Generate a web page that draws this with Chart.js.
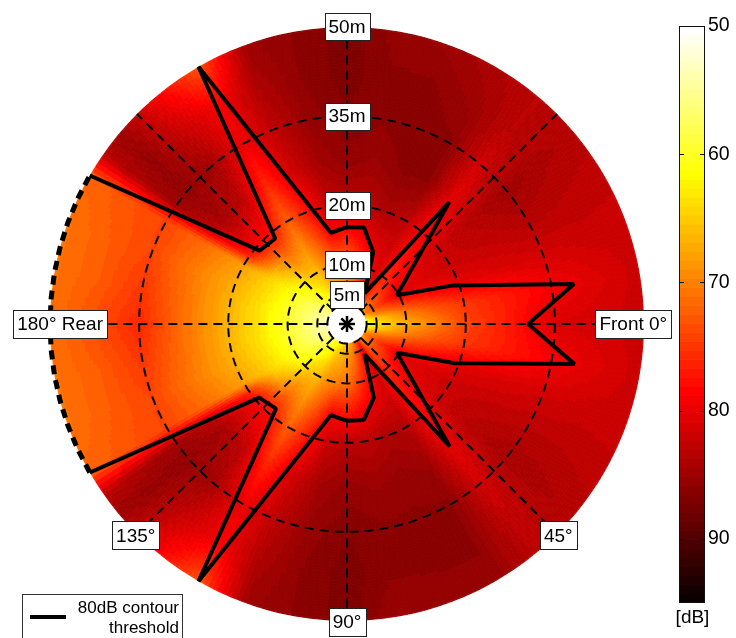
<!DOCTYPE html>
<html>
<head>
<meta charset="utf-8">
<title>80dB contour</title>
<script src="https://cdn.jsdelivr.net/npm/chart.js@4"></script>
<style>
  html, body { margin: 0; padding: 0; background: #fff; overflow: hidden; }
  #wrap { position: relative; width: 736px; height: 638px; }
  canvas { position: absolute; top: 0; }
</style>
</head>
<body>
<div id="wrap">
  <canvas id="polar" width="736" height="638" style="left:0"></canvas>
  <canvas id="bar" width="64" height="638" style="left:672px"></canvas>
</div>
<script>
// level in dB, one row per angle in fieldAngles, one column per radius in fieldRadii
const fieldRadii = [3.3, 5, 10, 15, 20, 27.5, 35, 42.5, 50];
const fieldAngles = [0, 10, 20, 30, 40, 50, 60, 70, 80, 90, 100, 110, 120, 130, 140, 145, 150, 160, 170, 180,
    190, 200, 210, 215, 220, 230, 240, 250, 260, 270, 280, 290, 300, 310, 320, 330, 340, 350];
const levels = [
    [60, 63, 67, 70, 74, 77, 81, 81.5, 82],
    [62, 65, 70, 73, 75, 77, 79, 80.6, 82],
    [66, 70, 75, 78, 80.2, 81, 81.5, 82, 82],
    [70, 73, 80.2, 81, 82, 82.5, 83, 83, 82.5],
    [68, 72, 78, 80.4, 82, 83.5, 84.5, 84, 83.5],
    [70, 73, 76, 77.5, 78.5, 80.2, 81.5, 82.5, 83],
    [76, 79, 81, 82, 83.5, 85, 86, 86, 85.5],
    [72, 74, 78, 81, 84, 85.5, 86, 86, 85.5],
    [68, 70, 74, 79, 83, 85, 86, 86, 85],
    [66, 68, 71, 77, 83, 85.5, 86.5, 87, 87],
    [64, 66, 70, 78, 82, 84.5, 85.5, 86, 86],
    [62, 65, 69, 73, 77, 81.5, 83, 84, 85],
    [60, 62, 66, 69, 72, 76, 79.5, 79, 73],
    [58, 60, 65, 71, 78, 83, 84.5, 82, 79],
    [56, 58, 62, 68, 79, 84.5, 85.5, 85.5, 85],
    [55.5, 57.5, 61.5, 66, 76, 82.5, 85, 84, 83],
    [55, 56.5, 60.5, 64.5, 68, 71.5, 74, 73, 72],
    [54, 55.5, 60, 64, 67, 70.5, 74, 72.5, 71],
    [53.5, 55, 59.5, 63.5, 66.5, 71, 75, 72.5, 71],
    [53, 55, 59.5, 63.5, 66.5, 71, 76, 73.5, 71],
    [53.5, 55, 59.5, 63.5, 66.5, 71, 75, 72.5, 71],
    [54, 55.5, 60, 64, 67, 70.5, 74, 72.5, 71],
    [55, 56.5, 60.5, 64.5, 68, 71.5, 74, 73, 72],
    [55.5, 57.5, 61.5, 66, 76, 82.5, 85, 84, 83],
    [56, 58, 62, 68, 79, 84.5, 85.5, 85.5, 85],
    [58, 60, 65, 71, 78, 83, 84.5, 82, 79],
    [60, 62, 66, 69, 72, 76, 79.5, 79, 73],
    [62, 65, 69, 73, 77, 81.5, 83, 84, 85],
    [64, 66, 70, 78, 82, 84.5, 85.5, 86, 86],
    [66, 68, 71, 77, 83, 85.5, 86.5, 87, 87],
    [68, 70, 74, 79, 83, 85, 86, 86, 85.5],
    [72, 74, 78, 81, 84, 86, 86.5, 86, 85],
    [76, 79, 81, 82, 83, 86, 86, 85, 84],
    [70, 73, 76, 77.5, 78.5, 80.2, 81.5, 83, 83],
    [68, 72, 78, 80.4, 82, 83.5, 85, 84, 83.5],
    [70, 73, 80.2, 81, 82, 82.5, 83.5, 83, 82.5],
    [66, 70, 75, 78, 80.2, 81, 81.5, 82, 82],
    [62, 65, 70, 73, 75, 77, 79, 80.6, 82],
];

// 80dB contour, open at the rear where it runs along the rim
const contourAngles = [210, 220, 230, 240, 260, 270, 280, 290, 300, 310, 330, 340, 350, 0,
    10, 20, 30, 50, 60, 70, 80, 90, 100, 120, 130, 140, 150];
const contourRadii = [50, 19.2, 18.8, 50, 15.6, 16.3, 16.5, 12.9, 6, 26.8, 9.7, 19, 38.8, 30.5,
    38.9, 19.3, 9.7, 26.9, 5.9, 13.2, 16.4, 16.3, 15.6, 50, 18.6, 19.3, 50];
const rimAngles = [150, 155, 160, 165, 170, 175, 180, 185, 190, 195, 200, 205, 210];

const ringRadii = [3.3, 5, 10, 20, 35];
const ringLabels = ['5m', '10m', '20m', '35m', '50m'];
const ringLabelRadii = [5, 10, 20, 35, 50];
const spokeAngles = [0, 45, 90, 135, 180, 225, 270, 315];
const angleLabels = ['Front 0°', '45°', '90°', '135°', '180° Rear'];
const angleLabelAngles = [0, 45, 90, 135, 180];
const angleLabelRadii = [48.2, 50.3, 50.2, 50.3, 48.3];

const barTicks = [50, 60, 70, 80, 90];
const barMin = 50, barMax = 95, barSteps = 64;

const FONT = '"Liberation Sans", Arial, sans-serif';

function hot(v) {
    // flipped 64 step hot map between barMin and barMax
    let i = Math.ceil((barMax - v) / (barMax - barMin) * barSteps);
    i = Math.max(1, Math.min(barSteps, i));
    const r = Math.min(1, i / 24);
    const g = Math.max(0, Math.min(1, (i - 24) / 24));
    const b = Math.max(0, Math.min(1, (i - 48) / 16));
    return 'rgb(' + Math.round(r * 255) + ',' + Math.round(g * 255) + ',' + Math.round(b * 255) + ')';
}

function polar(angle, r) {
    const a = angle * Math.PI / 180;
    return { x: r * Math.cos(a), y: r * Math.sin(a) };
}

function levelAt(angle, r) {
    const n = fieldAngles.length;
    let i = n - 1;
    for (let k = 0; k < n - 1; k++) {
        if (angle >= fieldAngles[k] && angle < fieldAngles[k + 1]) { i = k; break; }
    }
    const a0 = fieldAngles[i];
    const a1 = i === n - 1 ? 360 : fieldAngles[i + 1];
    const ta = (angle - a0) / (a1 - a0);
    let j = fieldRadii.length - 2;
    for (let k = 0; k < fieldRadii.length - 1; k++) {
        if (r < fieldRadii[k + 1]) { j = k; break; }
    }
    const tr = (r - fieldRadii[j]) / (fieldRadii[j + 1] - fieldRadii[j]);
    const row0 = levels[i], row1 = levels[(i + 1) % n];
    const v0 = row0[j] + (row0[j + 1] - row0[j]) * tr;
    const v1 = row1[j] + (row1[j + 1] - row1[j]) * tr;
    return v0 + (v1 - v0) * ta;
}

const fieldPlugin = {
    id: 'field',
    beforeDatasetsDraw(chart) {
        const c = chart.ctx, sx = chart.scales.x, sy = chart.scales.y;
        const px = (a, r) => { const p = polar(a, r); return [sx.getPixelForValue(p.x), sy.getPixelForValue(p.y)]; };
        const da = 1, dr = 0.5;
        const r0 = fieldRadii[0], r1 = fieldRadii[fieldRadii.length - 1];
        c.save();
        c.lineWidth = 1;
        for (let a = 0; a < 360; a += da) {
            for (let r = r0; r < r1 - 1e-6; r += dr) {
                const col = hot(levelAt(a + da / 2, r + dr / 2));
                const rr = Math.min(r + dr, r1);
                const p = [px(a, r), px(a + da, r), px(a + da, rr), px(a, rr)];
                c.fillStyle = col;
                c.strokeStyle = col;
                c.beginPath();
                c.moveTo(p[0][0], p[0][1]);
                for (let k = 1; k < 4; k++) c.lineTo(p[k][0], p[k][1]);
                c.closePath();
                c.fill();
                if (r + dr < r1 - 1e-6) c.stroke();
            }
        }
        c.restore();
    }
};

function box(c, text, cx, cy, h) {
    const w = Math.round(c.measureText(text).width + 8);
    const x = Math.round(cx - w / 2) + 0.5, y = Math.round(cy - h / 2) + 0.5;
    c.fillStyle = '#fff';
    c.strokeStyle = '#222';
    c.lineWidth = 1;
    c.fillRect(x, y, w, h);
    c.strokeRect(x, y, w, h);
    c.fillStyle = '#000';
    c.fillText(text, cx, cy + 1);
}

const labelPlugin = {
    id: 'labels',
    afterDatasetsDraw(chart) {
        const c = chart.ctx, sx = chart.scales.x, sy = chart.scales.y;
        c.save();
        c.font = '19px ' + FONT;
        c.textAlign = 'center';
        c.textBaseline = 'middle';
        ringLabels.forEach((t, i) => {
            box(c, t, sx.getPixelForValue(0), sy.getPixelForValue(-ringLabelRadii[i]), 27);
        });
        angleLabels.forEach((t, i) => {
            const p = polar(angleLabelAngles[i], angleLabelRadii[i]);
            box(c, t, sx.getPixelForValue(p.x), sy.getPixelForValue(p.y), 28);
        });
        // legend box runs off the bottom of the page
        c.fillStyle = '#fff';
        c.strokeStyle = '#333';
        c.fillRect(22.5, 594.5, 160, 50);
        c.strokeRect(22.5, 594.5, 160, 50);
        c.strokeStyle = '#000';
        c.lineWidth = 4;
        c.beginPath();
        c.moveTo(30, 617);
        c.lineTo(66, 617);
        c.stroke();
        c.fillStyle = '#000';
        c.font = '17px ' + FONT;
        c.textAlign = 'right';
        c.textBaseline = 'alphabetic';
        c.fillText('80dB contour', 179, 613);
        c.fillText('threshold', 179, 633);
        c.restore();
    }
};

function line(points, width, dash) {
    return {
        data: points,
        showLine: true,
        fill: false,
        borderColor: '#000',
        backgroundColor: '#000',
        borderWidth: width,
        borderDash: dash,
        borderJoinStyle: 'bevel',
        pointRadius: 0,
        tension: 0,
    };
}

const circle = [];
for (let a = 0; a <= 360; a += 3) circle.push(a);

const polarSets = [];
ringRadii.forEach(r => polarSets.push(line(circle.map(a => polar(a, r)), 2, [9, 6])));
spokeAngles.forEach(a => polarSets.push(line([polar(a, ringRadii[0]), polar(a, 50)], 2, [9, 6])));
polarSets.push(line(rimAngles.map(a => polar(a, 50)), 5, [9, 6]));
polarSets.push(line(contourAngles.map((a, i) => polar(a, contourRadii[i])), 4, []));
polarSets.push({
    data: [{ x: 0, y: 0 }],
    pointStyle: 'star',
    pointRadius: 8,
    borderColor: '#000',
    borderWidth: 2.5,
});

const PX_PER_M = 5.94;
new Chart(document.getElementById('polar').getContext('2d'), {
    type: 'scatter',
    data: { datasets: polarSets },
    options: {
        responsive: false,
        animation: false,
        devicePixelRatio: 1,
        layout: { padding: 0, autoPadding: false },
        plugins: { legend: { display: false }, tooltip: { enabled: false } },
        scales: {
            x: { type: 'linear', display: false, min: -347 / PX_PER_M, max: (736 - 347) / PX_PER_M },
            y: { type: 'linear', display: false, reverse: true, min: -324 / PX_PER_M, max: (638 - 324) / PX_PER_M },
        },
    },
    plugins: [fieldPlugin, labelPlugin],
});

const barSets = [];
for (let i = 0; i < barSteps; i++) {
    const v0 = barMin + (barMax - barMin) * i / barSteps;
    const v1 = barMin + (barMax - barMin) * (i + 1) / barSteps;
    barSets.push({ data: [[v0, v1]], backgroundColor: hot((v0 + v1) / 2), borderWidth: 0 });
}

const framePlugin = {
    id: 'frame',
    afterDatasetsDraw(chart) {
        const c = chart.ctx, a = chart.chartArea, sy = chart.scales.y;
        c.save();
        c.strokeStyle = '#111';
        c.lineWidth = 1;
        c.strokeRect(a.left + 0.5, a.top + 0.5, a.right - a.left - 1, a.bottom - a.top - 1);
        barTicks.slice(1).forEach(t => {
            const y = Math.round(sy.getPixelForValue(t)) + 0.5;
            c.beginPath();
            c.moveTo(a.left, y); c.lineTo(a.left + 5, y);
            c.moveTo(a.right - 5, y); c.lineTo(a.right, y);
            c.stroke();
        });
        c.fillStyle = '#000';
        c.font = '19px ' + FONT;
        c.textAlign = 'center';
        c.textBaseline = 'middle';
        c.fillText('[dB]', (a.left + a.right) / 2 + 0.5, 618);
        c.restore();
    }
};

new Chart(document.getElementById('bar').getContext('2d'), {
    type: 'bar',
    data: { labels: ['level'], datasets: barSets },
    options: {
        responsive: false,
        animation: false,
        devicePixelRatio: 1,
        layout: { padding: { left: 7, right: 0, top: 26, bottom: 35 }, autoPadding: false },
        datasets: { bar: { grouped: false, barPercentage: 1, categoryPercentage: 1 } },
        plugins: { legend: { display: false }, tooltip: { enabled: false } },
        scales: {
            x: { display: false },
            y: {
                position: 'right',
                reverse: true,
                min: barMin,
                max: barMax,
                afterFit(s) { s.width = 31; },
                afterBuildTicks(s) { s.ticks = barTicks.map(v => ({ value: v })); },
                grid: { display: false, drawTicks: false },
                border: { display: false },
                ticks: { color: '#000', padding: 3, font: { family: FONT, size: 19.5 } },
            },
        },
    },
    plugins: [framePlugin],
});
</script>
</body>
</html>
